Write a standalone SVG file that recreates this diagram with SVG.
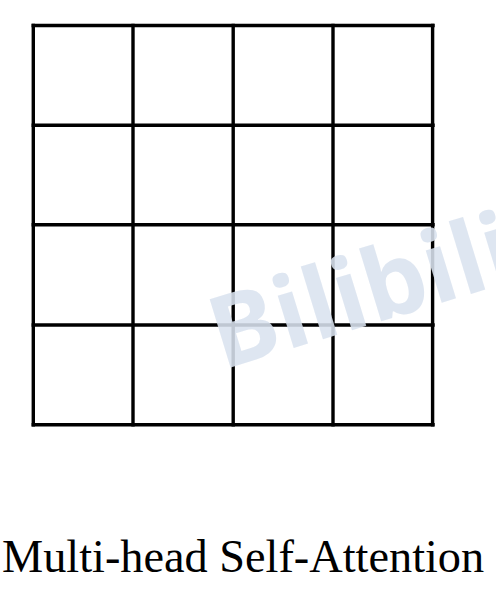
<svg xmlns="http://www.w3.org/2000/svg" width="496" height="592" viewBox="0 0 496 592">
<style>
.grid line{stroke:#000;stroke-width:3.4;stroke-linecap:square}
.caption{font-family:"Liberation Serif","Times New Roman",serif;font-size:46.3px;fill:#000}
.wm{font-family:"Open Sans","DejaVu Sans",sans-serif;font-weight:bold;font-size:100px;fill:#d9e3ef;fill-opacity:0.88}
</style>
<rect width="496" height="592" fill="#fff"/>
<g id="grid" class="grid">
<line x1="33.3" y1="25.5" x2="433" y2="25.5"/>
<line x1="33.3" y1="125.3" x2="433" y2="125.3"/>
<line x1="33.3" y1="224.8" x2="433" y2="224.8"/>
<line x1="33.3" y1="325" x2="433" y2="325"/>
<line x1="33.3" y1="424.8" x2="433" y2="424.8"/>
<line x1="33.3" y1="25.5" x2="33.3" y2="424.8"/>
<line x1="133" y1="25.5" x2="133" y2="424.8"/>
<line x1="233.2" y1="25.5" x2="233.2" y2="424.8"/>
<line x1="333" y1="25.5" x2="333" y2="424.8"/>
<line x1="432.6" y1="25.5" x2="432.6" y2="424.8"/>
</g>
<g id="caption">
<text class="caption" x="2" y="571.5">Multi-head Self-Attention</text>
</g>
<text class="wm" transform="translate(222,370) rotate(-17)">Bilibili</text>
</svg>
